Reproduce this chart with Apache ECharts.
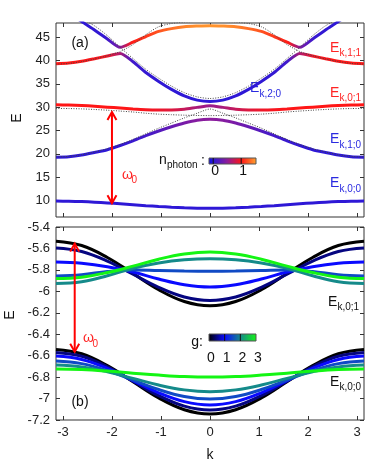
<!DOCTYPE html>
<html>
<head>
<meta charset="utf-8">
<script src="https://cdn.jsdelivr.net/npm/echarts@6.0.0/dist/echarts.min.js"></script>
<style>
html, body { margin: 0; padding: 0; background: #fff; }
#chart { width: 374px; height: 468px; }
</style>
</head>
<body>
<div id="chart"></div>
<script>
// ---- panel (a): bands vs k, coloured by photon number ----
var kTop = [-3.1416, -2.8798, -2.618, -2.3562, -2.0944, -1.8326, -1.5708, -1.309, -1.0472, -0.7854, -0.5236, -0.2618, 0,
            0.2618, 0.5236, 0.7854, 1.0472, 1.309, 1.5708, 1.8326, 2.0944, 2.3562, 2.618, 2.8798, 3.1416];

var e00 = [9.90, 9.87, 9.80, 9.67, 9.52, 9.33, 9.13, 8.93, 8.75, 8.59, 8.46, 8.39, 8.36, 8.39, 8.46, 8.59, 8.75, 8.93, 9.13, 9.33, 9.52, 9.67, 9.80, 9.87, 9.90];
var n00 = [0.02, 0.02, 0.02, 0.02, 0.02, 0.02, 0.02, 0.02, 0.02, 0.02, 0.02, 0.02, 0.02, 0.02, 0.02, 0.02, 0.02, 0.02, 0.02, 0.02, 0.02, 0.02, 0.02, 0.02, 0.02];

var e10 = [19.3, 19.4, 19.75, 20.3, 20.9, 21.8, 22.8, 23.9, 24.9, 25.8, 26.6, 27.2, 27.4, 27.2, 26.6, 25.8, 24.9, 23.9, 22.8, 21.8, 20.9, 20.3, 19.75, 19.4, 19.3];
var n10 = [0.02, 0.02, 0.02, 0.02, 0.02, 0.04, 0.07, 0.12, 0.2, 0.3, 0.4, 0.47, 0.5, 0.47, 0.4, 0.3, 0.2, 0.12, 0.07, 0.04, 0.02, 0.02, 0.02, 0.02, 0.02];

var e01 = [30.5, 30.45, 30.35, 30.2, 30.0, 29.8, 29.6, 29.45, 29.4, 29.4, 29.55, 29.95, 30.3, 29.95, 29.55, 29.4, 29.4, 29.45, 29.6, 29.8, 30.0, 30.2, 30.35, 30.45, 30.5];
var n01 = [1, 1, 1, 1, 1, 1, 0.99, 0.97, 0.93, 0.86, 0.75, 0.62, 0.56, 0.62, 0.75, 0.86, 0.93, 0.97, 0.99, 1, 1, 1, 1, 1, 1];

// the two branches around the E_{k,1;1} / E_{k,2;0} anticrossing
var eLow = [39.3, 39.45, 39.8, 40.35, 40.95, 41.5, 39.7, 37.4, 35.5, 33.8, 32.4, 31.5, 31.2, 31.5, 32.4, 33.8, 35.5, 37.4, 39.7, 41.5, 40.95, 40.35, 39.8, 39.45, 39.3];
var nLow = [1, 1, 1, 0.98, 0.95, 0.7, 0.12, 0.05, 0.03, 0.02, 0.02, 0.02, 0.02, 0.02, 0.02, 0.02, 0.03, 0.05, 0.12, 0.7, 0.95, 0.98, 1, 1, 1];
var eUp = [51.0, 50.2, 48.3, 46.5, 44.6, 42.8, 43.9, 45.1, 46.2, 46.8, 47.2, 47.35, 47.43, 47.35, 47.2, 46.8, 46.2, 45.1, 43.9, 42.8, 44.6, 46.5, 48.3, 50.2, 51.0];
var nUp = [0.02, 0.02, 0.02, 0.03, 0.06, 0.4, 1.02, 1.12, 1.22, 1.32, 1.4, 1.45, 1.47, 1.45, 1.4, 1.32, 1.22, 1.12, 1.02, 0.4, 0.06, 0.03, 0.02, 0.02, 0.02];

// uncoupled bands (dotted)
var d01 = [29.73, 29.70, 29.63, 29.50, 29.35, 29.16, 28.96, 28.7, 28.5, 28.38, 28.28, 28.22, 28.19, 28.22, 28.28, 28.38, 28.5, 28.7, 28.96, 29.16, 29.35, 29.50, 29.63, 29.70, 29.73];
var d10 = [19.35, 19.45, 19.8, 20.4, 21.1, 22.0, 23.1, 24.3, 25.5, 26.6, 27.7, 28.7, 29.6, 28.7, 27.7, 26.6, 25.5, 24.3, 23.1, 22.0, 21.1, 20.4, 19.8, 19.45, 19.35];
var d20 = [50.0, 49.7, 48.8, 47.4, 45.3, 42.8, 40.4, 38.1, 36.2, 34.5, 33.1, 32.2, 31.85, 32.2, 33.1, 34.5, 36.2, 38.1, 40.4, 42.8, 45.3, 47.4, 48.8, 49.7, 50.0];
var d11 = [39.2, 39.35, 39.75, 40.3, 41.0, 41.9, 43.4, 45.5, 47.2, 47.9, 48.2, 48.35, 48.4, 48.35, 48.2, 47.9, 47.2, 45.5, 43.4, 41.9, 41.0, 40.3, 39.75, 39.35, 39.2];

var yTicksTop = [10, 15, 20, 25, 30, 35, 40, 45];
var kTicks = [-3, -2, -1, 0, 1, 2, 3];

// ---- panel (b): two lowest bands for several couplings g ----
var kBot = [-3.1416, -2.618, -2.0944, -1.5708, -1.0472, -0.5236, 0, 0.5236, 1.0472, 1.5708, 2.0944, 2.618, 3.1416];
var gValues = [0, 0.5, 1, 1.5, 2, 3];
var upper = [
  [-5.533, -5.573, -5.684, -5.834, -5.985, -6.095, -6.135, -6.095, -5.985, -5.834, -5.684, -5.573, -5.533],
  [-5.595, -5.628, -5.718, -5.841, -5.963, -6.053, -6.086, -6.053, -5.963, -5.841, -5.718, -5.628, -5.595],
  [-5.726, -5.738, -5.770, -5.820, -5.885, -5.938, -5.959, -5.938, -5.885, -5.820, -5.770, -5.738, -5.726],
  [-5.856, -5.845, -5.815, -5.800, -5.805, -5.810, -5.812, -5.810, -5.805, -5.800, -5.815, -5.845, -5.856],
  [-5.927, -5.910, -5.855, -5.785, -5.735, -5.705, -5.695, -5.705, -5.735, -5.785, -5.855, -5.910, -5.927],
  [-5.881, -5.868, -5.825, -5.765, -5.700, -5.652, -5.633, -5.652, -5.700, -5.765, -5.825, -5.868, -5.881]
];
var lower = [
  [-6.542, -6.582, -6.693, -6.843, -6.994, -7.104, -7.144, -7.104, -6.994, -6.843, -6.693, -6.582, -6.542],
  [-6.570, -6.606, -6.704, -6.839, -6.973, -7.071, -7.107, -7.071, -6.973, -6.839, -6.704, -6.606, -6.570],
  [-6.604, -6.635, -6.718, -6.832, -6.946, -7.029, -7.060, -7.029, -6.946, -6.832, -6.718, -6.635, -6.604],
  [-6.650, -6.674, -6.739, -6.828, -6.916, -6.981, -7.005, -6.981, -6.916, -6.828, -6.739, -6.674, -6.650],
  [-6.688, -6.705, -6.750, -6.812, -6.874, -6.919, -6.936, -6.919, -6.874, -6.812, -6.750, -6.705, -6.688],
  [-6.725, -6.730, -6.744, -6.763, -6.781, -6.795, -6.800, -6.795, -6.781, -6.763, -6.744, -6.730, -6.725]
];
var yTicksBot = [-7.2, -7, -6.8, -6.6, -6.4, -6.2, -6, -5.8, -5.6, -5.4];

// omega_0 arrows: [k, lower E, upper E]
var arrowTop = [-2, 9.45, 28.95];
var arrowBot = [-2.76, -6.564, -5.555];

var nBarTicks = [0, 1];
var gBarTicks = [0, 1, 2, 3];

// palettes
var nPalette = [[-0.15, '#0c0ce6'], [0, '#2a18d8'], [0.5, '#8c1c9c'], [1, '#ff1616'], [1.55, '#ffaa30']];
var gPalette = [[0, '#000000'], [1, '#0a0aff'], [2, '#158a8a'], [3, '#14f514']];

var FONT = 'Liberation Sans';
var RED = '#ff2424';
var BLUE = '#2a2ae0';

function hexRgb(h) {
  return [parseInt(h.slice(1, 3), 16), parseInt(h.slice(3, 5), 16), parseInt(h.slice(5, 7), 16)];
}
function palColor(stops, v) {
  if (v <= stops[0][0]) return stops[0][1];
  for (var i = 1; i < stops.length; i++) {
    if (v <= stops[i][0]) {
      var t = (v - stops[i - 1][0]) / (stops[i][0] - stops[i - 1][0]);
      var a = hexRgb(stops[i - 1][1]), b = hexRgb(stops[i][1]);
      return 'rgb(' + a.map(function (c, j) { return Math.round(c + (b[j] - c) * t); }).join(',') + ')';
    }
  }
  return stops[stops.length - 1][1];
}
function alongK(ks, ns) {
  var k0 = ks[0], k1 = ks[ks.length - 1];
  return new echarts.graphic.LinearGradient(0, 0, 1, 0, ks.map(function (k, i) {
    return { offset: (k - k0) / (k1 - k0), color: palColor(nPalette, ns[i]) };
  }));
}
function barFill(stops, lo, hi) {
  var cs = [];
  for (var i = 0; i <= 30; i++) cs.push({ offset: i / 30, color: palColor(stops, lo + (hi - lo) * i / 30) });
  return new echarts.graphic.LinearGradient(0, 0, 1, 0, cs);
}
function pairs(ks, es) { return ks.map(function (k, i) { return [k, es[i]]; }); }

function colourBand(ks, es, ns) {
  return {
    type: 'line', xAxisIndex: 0, yAxisIndex: 0, data: pairs(ks, es),
    symbol: 'none', smooth: 0.25, silent: true,
    lineStyle: { width: 3, color: alongK(ks, ns) }
  };
}
function dotted(ks, es) {
  return {
    type: 'line', xAxisIndex: 0, yAxisIndex: 0, data: pairs(ks, es),
    symbol: 'none', smooth: 0.25, silent: true,
    lineStyle: { width: 1, color: '#444', type: [1, 1.5] }
  };
}
function arrowSeries(axis, arr) {
  return {
    type: 'custom', xAxisIndex: axis, yAxisIndex: axis, data: [arr], silent: true, z: 5,
    renderItem: function (params, api) {
      var a = api.coord([api.value(0), api.value(1)]);
      var b = api.coord([api.value(0), api.value(2)]);
      var h = 8, w = 4.5;
      var st = { stroke: '#ff0000', lineWidth: 2, fill: null };
      return {
        type: 'group', children: [
          { type: 'line', shape: { x1: a[0], y1: a[1], x2: b[0], y2: b[1] }, style: st },
          { type: 'polyline', shape: { points: [[a[0] - w, a[1] - h], a, [a[0] + w, a[1] - h]] }, style: st },
          { type: 'polyline', shape: { points: [[b[0] - w, b[1] + h], b, [b[0] + w, b[1] + h]] }, style: st }
        ]
      };
    }
  };
}

var series = [
  colourBand(kTop, e00, n00),
  colourBand(kTop, e10, n10),
  colourBand(kTop, e01, n01),
  colourBand(kTop, eLow, nLow),
  colourBand(kTop, eUp, nUp),
  dotted(kTop, d01), dotted(kTop, d10), dotted(kTop, d20), dotted(kTop, d11),
  arrowSeries(0, arrowTop)
];
gValues.forEach(function (g, i) {
  [upper[i], lower[i]].forEach(function (es) {
    series.push({
      type: 'line', xAxisIndex: 1, yAxisIndex: 1, data: pairs(kBot, es),
      symbol: 'none', smooth: 0.4, silent: true,
      lineStyle: { width: 3, color: palColor(gPalette, g) }
    });
  });
});
series.push(arrowSeries(1, arrowBot));

var tickStyle = { show: true, inside: true, length: 4, lineStyle: { color: '#333' } };
var lblStyle = { fontFamily: FONT, fontSize: 13, color: '#222' };

function xAx(grid, pos, labels) {
  return {
    type: 'value', gridIndex: grid, position: pos, min: -Math.PI, max: Math.PI,
    axisLine: { show: false, onZero: false }, splitLine: { show: false },
    axisTick: Object.assign({ customValues: kTicks }, tickStyle),
    axisLabel: Object.assign({ show: labels, margin: 6, customValues: kTicks }, lblStyle)
  };
}
function yAx(grid, pos, labels, min, max, ticks) {
  return {
    type: 'value', gridIndex: grid, position: pos, min: min, max: max,
    axisLine: { show: false, onZero: false }, splitLine: { show: false },
    axisTick: Object.assign({ customValues: ticks }, tickStyle),
    axisLabel: Object.assign({ show: labels, margin: 6, customValues: ticks }, lblStyle)
  };
}

// main symbol with a subscript, (x, y) = left / vertical centre of the main symbol
function subText(x, y, main, sub, col, mw) {
  return {
    type: 'group', x: x, y: y, silent: true, children: [
      { type: 'text', x: 0, y: 0, style: { text: main, fontFamily: FONT, fontSize: 14, fill: col, align: 'left', verticalAlign: 'middle' } },
      { type: 'text', x: mw, y: 5.5, style: { text: sub, fontFamily: FONT, fontSize: 10, fill: col, align: 'left', verticalAlign: 'middle' } }
    ]
  };
}
function plain(x, y, txt, size, col, align, rot) {
  return {
    type: 'text', x: x, y: y, rotation: rot || 0, silent: true,
    style: { text: txt, fontFamily: FONT, fontSize: size, fill: col, align: align || 'center', verticalAlign: 'middle' }
  };
}

// colour bars
var nBar = { x: 209, y: 158, w: 47, h: 6, lo: -0.15, hi: 1.53 };
var gBar = { x: 209, y: 334, w: 47, h: 7, lo: 0, hi: 3 };
function barElems(bar, stops, ticks, inner, labelY) {
  var els = [{ type: 'rect', silent: true, shape: { x: bar.x, y: bar.y, width: bar.w, height: bar.h },
               style: { fill: barFill(stops, bar.lo, bar.hi), stroke: '#555', lineWidth: 1 } }];
  ticks.forEach(function (t) {
    var px = bar.x + (t - bar.lo) / (bar.hi - bar.lo) * bar.w;
    if (inner.indexOf(t) >= 0) {
      els.push({ type: 'line', silent: true, shape: { x1: px, y1: bar.y, x2: px, y2: bar.y + bar.h }, style: { stroke: '#111', lineWidth: 1 } });
    }
    els.push(plain(px + 2, labelY, String(t), 14, '#111'));
  });
  return els;
}

var graphics = [
  plain(17, 118, 'E', 14, '#111', 'center', Math.PI / 2),
  plain(10, 315, 'E', 14, '#111', 'center', Math.PI / 2),
  plain(210, 455, 'k', 14, '#111'),
  plain(80, 43, '(a)', 14, '#111'),
  plain(80, 402, '(b)', 14, '#111'),
  subText(330, 47.7, 'E', 'k,1;1', RED, 9.5),
  subText(330, 92.7, 'E', 'k,0;1', RED, 9.5),
  subText(250, 88.5, 'E', 'k,2;0', BLUE, 9.5),
  subText(330, 139.3, 'E', 'k,1;0', BLUE, 9.5),
  subText(330, 183.3, 'E', 'k,0;0', BLUE, 9.5),
  subText(122, 175, '\u03c9', '0', RED, 9.5),
  subText(328, 301.7, 'E', 'k,0;1', '#111', 9.5),
  subText(330, 381.7, 'E', 'k,0;0', '#111', 9.5),
  subText(83, 338.3, '\u03c9', '0', RED, 9.5),
  subText(159, 160, 'n', 'photon', '#111', 8),
  plain(203, 161, ':', 14, '#111'),
  plain(197, 342, 'g:', 14, '#111')
].concat(barElems(nBar, nPalette, nBarTicks, [0, 1], 171))
 .concat(barElems(gBar, gPalette, gBarTicks, [1, 2], 358));

var chart = echarts.init(document.getElementById('chart'), null, { renderer: 'canvas' });
chart.setOption({
  animation: false,
  backgroundColor: '#fff',
  grid: [
    { left: 56, top: 23, width: 308, height: 194, show: true, borderColor: '#333', borderWidth: 1 },
    { left: 56, top: 227, width: 308, height: 193, show: true, borderColor: '#333', borderWidth: 1 }
  ],
  xAxis: [xAx(0, 'bottom', false), xAx(1, 'bottom', true), xAx(0, 'top', false), xAx(1, 'top', false)],
  yAxis: [
    yAx(0, 'left', true, 6.5, 48, yTicksTop),
    yAx(1, 'left', true, -7.2, -5.4, yTicksBot),
    yAx(0, 'right', false, 6.5, 48, yTicksTop),
    yAx(1, 'right', false, -7.2, -5.4, yTicksBot)
  ],
  series: series,
  graphic: graphics
});
</script>
</body>
</html>
